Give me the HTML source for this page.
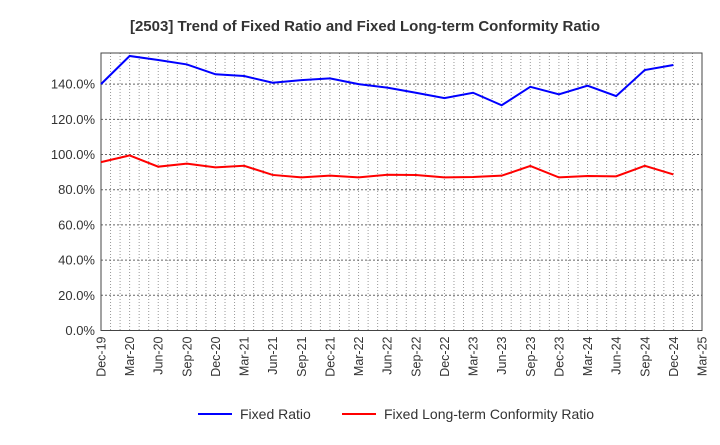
<!DOCTYPE html>
<html><head><meta charset="utf-8"><style>
body{margin:0;background:#fff;font-family:"Liberation Sans",sans-serif;}
</style></head><body>
<svg width="720" height="440" xmlns="http://www.w3.org/2000/svg">
<text x="365" y="31" text-anchor="middle" font-size="15" font-weight="bold" fill="#333">[2503]  Trend of Fixed Ratio and Fixed Long-term Conformity Ratio</text>
<g id="grid"></g><g id="axes"></g><g id="series"></g>
<g>
<line x1="198" y1="414" x2="232" y2="414" stroke="#0000ff" stroke-width="2"/>
<text x="240" y="419" font-size="14" fill="#333">Fixed Ratio</text>
<line x1="342" y1="414" x2="376" y2="414" stroke="#ff0000" stroke-width="2"/>
<text x="384" y="419" font-size="14" fill="#333">Fixed Long-term Conformity Ratio</text>
</g>
</svg>
<script>
const categories=["Dec-19","Mar-20","Jun-20","Sep-20","Dec-20","Mar-21","Jun-21","Sep-21","Dec-21","Mar-22","Jun-22","Sep-22","Dec-22","Mar-23","Jun-23","Sep-23","Dec-23","Mar-24","Jun-24","Sep-24","Dec-24","Mar-25"];
const fixedRatio=[140,156,153.7,151.2,145.6,144.6,140.8,142.3,143.3,140,138,135.1,132.1,135.1,128,138.5,134.2,139.1,133.2,148,150.9];
const conformityRatio=[95.7,99.5,93.1,94.8,92.7,93.6,88.4,87,88,87,88.5,88.4,87,87.2,88,93.5,87,87.8,87.6,93.6,88.7];
const yTicks=[0,20,40,60,80,100,120,140];
const L=101,R=702,T=53,B=330.5,YMAX=157.7;
const NS="http://www.w3.org/2000/svg";
function xq(i){return L+i*(R-L)/(categories.length-1);}
function y(v){return B-v/YMAX*(B-T);}
function mk(tag,attrs,parent){const e=document.createElementNS(NS,tag);for(const k in attrs)e.setAttribute(k,attrs[k]);document.getElementById(parent).appendChild(e);return e;}
const step=(R-L)/(categories.length-1)/3;
for(let i=1;i<(categories.length-1)*3;i++){
 const g=mk('line',{x1:L+i*step,x2:L+i*step,y1:T,y2:B,stroke:'#999','stroke-dasharray':'1,2','stroke-width':1},'grid');
 
 
}
yTicks.forEach(v=>{
 if(v>0){const g=mk('line',{x1:L,x2:R,y1:y(v),y2:y(v),stroke:'#666','stroke-dasharray':'2,2','stroke-width':1},'grid');
 
 }
 const t=mk('text',{x:L-6,y:y(v)+4.5,'text-anchor':'end','font-size':13,fill:'#333'},'axes');
 t.textContent=v.toFixed(1)+'%';
 
 
});
const fr=mk('rect',{x:L,y:T,width:R-L,height:B-T,fill:'none',stroke:'#444','stroke-width':1},'axes');


categories.forEach((c,i)=>{
 const t=mk('text',{transform:`translate(${xq(i)+4.5},${B+6}) rotate(-90)`,'text-anchor':'end','font-size':12.5,fill:'#333'},'axes');
 t.textContent=c;
 
 
});
function line(data,color,name){
 const p=mk('polyline',{points:data.map((v,i)=>xq(i)+','+y(v)).join(' '),fill:'none',stroke:color,'stroke-width':2},'series');
 
 
}
line(fixedRatio,'#0000ff','fixed-ratio-line');
line(conformityRatio,'#ff0000','conformity-ratio-line');
</script>
</body></html>
